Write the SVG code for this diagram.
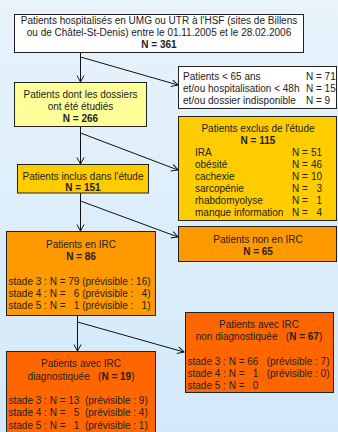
<svg xmlns="http://www.w3.org/2000/svg" width="338" height="432" viewBox="0 0 338 432">
<defs>
<linearGradient id="bg" x1="0" y1="0" x2="0" y2="1">
<stop offset="0" stop-color="#e8f3fb"/>
<stop offset="1" stop-color="#d2e9fa"/>
</linearGradient>
<marker id="arr" markerWidth="10" markerHeight="10" refX="7" refY="4" orient="auto" markerUnits="userSpaceOnUse">
<path d="M0.5,0.5 L7,4 L0.5,7.5" fill="none" stroke="#111" stroke-width="1"/>
</marker>
<style>
text{font-family:"Liberation Sans",Arial,sans-serif;font-size:10px;fill:#222;}
.c{text-anchor:middle;}
.e{text-anchor:end;}
.b{font-weight:bold;}
.box{stroke:#222;stroke-width:1;}
.w{fill:#ffffff;}
.ly{fill:#ffff99;}
.y{fill:#ffcc00;}
.o{fill:#ff9900;}
.r{fill:#ff6600;}
.ln{stroke:#111;stroke-width:1;fill:none;marker-end:url(#arr);}
</style>
</defs>
<rect x="0" y="0" width="338" height="432" fill="url(#bg)"/>
<g id="connectors">
<line class="ln" x1="80.5" y1="52" x2="80.5" y2="82"/>
<line class="ln" x1="80.5" y1="57" x2="178" y2="85"/>
<line class="ln" x1="80.5" y1="127" x2="80.5" y2="164"/>
<line class="ln" x1="80.5" y1="133" x2="178" y2="170"/>
<line class="ln" x1="80.5" y1="193" x2="80.5" y2="231"/>
<line class="ln" x1="80.5" y1="201" x2="178" y2="237"/>
<line class="ln" x1="77.5" y1="316" x2="77.5" y2="351"/>
<line class="ln" x1="77.5" y1="322" x2="184" y2="352"/>
</g>
<g id="n1">
<rect class="box w" x="14.5" y="14.5" width="289" height="38"/>
<text class="c" x="159" y="24">Patients hospitalisés en UMG ou UTR à l'HSF (sites de Billens</text>
<text class="c" x="159" y="36">ou de Châtel-St-Denis) entre le 01.11.2005 et le 28.02.2006</text>
<text class="c b" x="159" y="47.5">N = 361</text>
</g>
<g id="n2">
<rect class="box ly" x="14.5" y="82.5" width="132" height="44"/>
<text class="c" x="80.5" y="97.5">Patients dont les dossiers</text>
<text class="c" x="80.5" y="109.5">ont été étudiés</text>
<text class="c b" x="80.5" y="122">N = 266</text>
</g>
<g id="n3">
<rect class="box w" x="178.5" y="66.5" width="158" height="42"/>
<text x="183" y="79.5">Patients &lt; 65 ans</text>
<text x="306" y="79.5">N = 71</text>
<text x="183" y="91.5">et/ou hospitalisation &lt; 48h</text>
<text x="306" y="91.5">N = 15</text>
<text x="183" y="103.5">et/ou dossier indisponible</text>
<text x="306" y="103.5">N = 9</text>
</g>
<g id="n4">
<rect class="box y" x="178.5" y="116.5" width="158" height="104"/>
<text class="c" x="258" y="132">Patients exclus de l'étude</text>
<text class="c b" x="258" y="143.5">N = 115</text>
<text x="195" y="156">IRA</text>
<text x="292" y="156">N =</text><text class="e" x="322" y="156">51</text>
<text x="195" y="168">obésité</text>
<text x="292" y="168">N =</text><text class="e" x="322" y="168">46</text>
<text x="195" y="180">cachexie</text>
<text x="292" y="180">N =</text><text class="e" x="322" y="180">10</text>
<text x="195" y="192">sarcopénie</text>
<text x="292" y="192">N =</text><text class="e" x="322" y="192">3</text>
<text x="195" y="204">rhabdomyolyse</text>
<text x="292" y="204">N =</text><text class="e" x="322" y="204">1</text>
<text x="195" y="216">manque information</text>
<text x="292" y="216">N =</text><text class="e" x="322" y="216">4</text>
</g>
<g id="n5">
<rect class="box y" x="17.5" y="164.5" width="131" height="28.5"/>
<text class="c" x="83" y="179.5">Patients inclus dans l'étude</text>
<text class="c b" x="83" y="191">N = 151</text>
</g>
<g id="n6">
<rect class="box o" x="6.5" y="231.5" width="149" height="84"/>
<text class="c" x="81" y="248">Patients en IRC</text>
<text class="c b" x="81" y="259.5">N = 86</text>
<text x="8.5" y="284.5" xml:space="preserve">stade 3 : N = 79 (prévisible : 16)</text>
<text x="8.5" y="296.5" xml:space="preserve">stade 4 : N =   6 (prévisible :   4)</text>
<text x="8.5" y="308.5" xml:space="preserve">stade 5 : N =   1 (prévisible :   1)</text>
</g>
<g id="n7">
<rect class="box o" x="178.5" y="226.5" width="158" height="35"/>
<text class="c" x="258" y="242.5">Patients non en IRC</text>
<text class="c b" x="258" y="255">N = 65</text>
</g>
<g id="n8">
<rect class="box r" x="185.5" y="312.5" width="148" height="80"/>
<text class="c" x="259" y="328">Patients avec IRC</text>
<text class="c" x="259" y="340" xml:space="preserve">non diagnostiquée   (<tspan class="b">N = 67</tspan>)</text>
<text x="187.5" y="365" xml:space="preserve">stade 3 : N = 66   (prévisible : 7)</text>
<text x="187.5" y="377" xml:space="preserve">stade 4 : N =   1   (prévisible : 0)</text>
<text x="187.5" y="389" xml:space="preserve">stade 5 : N =   0</text>
</g>
<g id="n9">
<rect class="box r" x="6.5" y="351.5" width="149" height="84"/>
<text class="c" x="81" y="367">Patients avec IRC</text>
<text class="c" x="81" y="379.5" xml:space="preserve">diagnostiquée   (<tspan class="b">N = 19</tspan>)</text>
<text x="8.5" y="403.5" xml:space="preserve">stade 3 : N = 13  (prévisible : 9)</text>
<text x="8.5" y="416" xml:space="preserve">stade 4 : N =   5  (prévisible : 4)</text>
<text x="8.5" y="428.5" xml:space="preserve">stade 5 : N =   1  (prévisible : 1)</text>
</g>
</svg>
